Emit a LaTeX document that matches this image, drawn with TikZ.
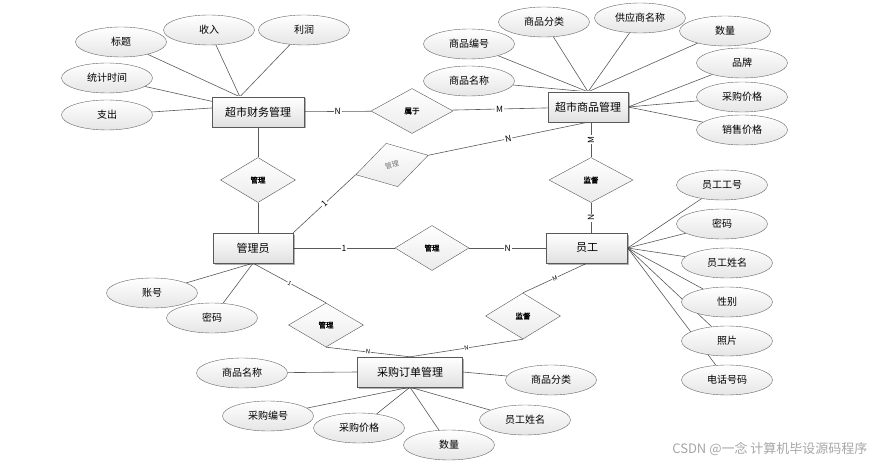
\documentclass[tikz,border=0pt]{standalone}
\usepackage{fontspec}
\setmainfont{Noto Sans CJK SC}[AutoFakeBold=2]
\usetikzlibrary{shapes.geometric,shadows,backgrounds}

\tikzset{
  entity/.style={draw=black!65, rectangle, minimum height=30pt, inner sep=0pt,
    top color=white, bottom color=black!12,
    drop shadow={shadow xshift=1.5pt, shadow yshift=-1.5pt, opacity=0.3, fill=black},
    font=\fontsize{11}{13}\selectfont},
  attr/.style={draw=black!60, ellipse, minimum width=91pt, minimum height=30pt, inner sep=0pt,
    top color=white, bottom color=black!10, font=\fontsize{10}{12}\selectfont},
  rel/.style={draw=black!65, diamond, minimum width=75pt, minimum height=45pt, inner sep=0pt,
    top color=white, bottom color=black!8, font=\fontsize{7.5}{9}\selectfont\bfseries},
  conn/.style={draw=black!65, line width=0.6pt},
  card/.style={fill=white, inner sep=1pt, font=\fontsize{8.5}{10}\selectfont},
  tiny/.style={fill=white, inner sep=0.5pt, sloped, font=\fontsize{6}{7}\selectfont}
}

\begin{document}
\begin{tikzpicture}[x=1pt, y=-1pt]
\useasboundingbox (0,0) rectangle (875,465);

% entities
\node[entity, minimum width=92pt] (fin) at (258,112) {超市财务管理};
\node[entity, minimum width=80pt] (goods) at (588,107) {超市商品管理};
\node[entity, minimum width=80pt] (admin) at (253,248) {管理员};
\node[entity, minimum width=81pt] (staff) at (587,248) {员工};
\node[entity, minimum width=105pt] (order) at (410,372) {采购订单管理};

% relations
\node[rel, minimum width=82pt] (belong) at (412,111) {属于};
\node[rel] (mgr1) at (258,180) {管理};
\node[rel, minimum width=74pt] (mgr2) at (432,248) {管理};
\node[rel, minimum height=44pt] (mgr3) at (326,325) {管理};
\node[rel, rotate=15, text=black!55, font=\fontsize{7}{8}\selectfont] (mgr4) at (392,165) {管理};
\node[rel, minimum width=84pt] (sup1) at (591,180) {监督};
\node[rel, minimum height=46pt] (sup2) at (523,316) {监督};

% finance attributes
\node[attr] (f1) at (121,42) {标题};
\node[attr] (f2) at (209,30) {收入};
\node[attr] (f3) at (304,30) {利润};
\node[attr] (f4) at (107,78) {统计时间};
\node[attr] (f5) at (107,115) {支出};

% goods attributes
\node[attr] (g1) at (469,44) {商品编号};
\node[attr] (g2) at (544,22) {商品分类};
\node[attr] (g3) at (640,18) {供应商名称};
\node[attr] (g4) at (725,31) {数量};
\node[attr] (g5) at (469,81) {商品名称};
\node[attr] (g6) at (742,63) {品牌};
\node[attr] (g7) at (742,97) {采购价格};
\node[attr] (g8) at (742,130) {销售价格};

% staff attributes
\node[attr] (s1) at (722,185) {员工工号};
\node[attr] (s2) at (722,224) {密码};
\node[attr] (s3) at (727,263) {员工姓名};
\node[attr] (s4) at (727,302) {性别};
\node[attr] (s5) at (727,341) {照片};
\node[attr] (s6) at (727,380) {电话号码};

% admin attributes
\node[attr] (a1) at (152,293) {账号};
\node[attr] (a2) at (212,318) {密码};

% order attributes
\node[attr] (o1) at (242,373) {商品名称};
\node[attr] (o2) at (551,380) {商品分类};
\node[attr] (o3) at (268,416) {采购编号};
\node[attr] (o4) at (359,428) {采购价格};
\node[attr] (o5) at (449,445) {数量};
\node[attr] (o6) at (525,420) {员工姓名};

\begin{scope}[on background layer]
\draw[conn] (f1) -- (fin.140); \draw[conn] (f2) -- (fin.140); \draw[conn] (f3) -- (fin.140);
\draw[conn] (f4) -- (fin.167); \draw[conn] (f5) -- (fin.175);
\draw[conn] (g1) -- (goods.north); \draw[conn] (g2) -- (goods.north); \draw[conn] (g3) -- (goods.north);
\draw[conn] (g4) -- (goods.north); \draw[conn] (g5) -- (goods.north);
\draw[conn] (g6) -- (goods.east); \draw[conn] (g7) -- (goods.east); \draw[conn] (g8) -- (goods.east);
\draw[conn] (s1) -- (staff.east); \draw[conn] (s2) -- (staff.east); \draw[conn] (s3) -- (staff.east);
\draw[conn] (s4) -- (staff.east); \draw[conn] (s5) -- (staff.east); \draw[conn] (s6) -- (staff.east);
\draw[conn] (a1) -- (admin.south); \draw[conn] (a2) -- (admin.south);
\draw[conn] (o1) -- (order.west); \draw[conn] (o2) -- (order.east);
\draw[conn] (o3) -- (order.south); \draw[conn] (o4) -- (order.south);
\draw[conn] (o5) -- (order.south); \draw[conn] (o6) -- (order.south);

% relation lines
\draw[conn] (fin) -- node[card] {N} (belong);
\draw[conn] (belong) -- node[card] {M} (goods);
\draw[conn] (fin) -- (mgr1); \draw[conn] (mgr1) -- (mgr1 |- admin.north);
\draw[conn] (admin.north east) -- node[card, sloped] {1} (mgr4.west);
\draw[conn] (mgr4.east) -- node[card, sloped] {N} (goods.south);
\draw[conn] (sup1 |- goods.south) -- node[card, rotate=90] {M} (sup1);
\draw[conn] (sup1) -- node[card, rotate=90] {N} (sup1 |- staff.north);
\draw[conn] (admin) -- node[card] {1} (mgr2);
\draw[conn] (mgr2) -- node[card] {N} (staff);
\draw[conn] (admin.south) -- node[tiny] {1} (mgr3.north);
\draw[conn] (mgr3.south) -- node[tiny] {N} (order.north);
\draw[conn] (staff.south) -- node[tiny] {M} (sup2.north);
\draw[conn] (sup2.south) -- node[tiny] {N} (order.north);
\end{scope}

\node[text=black!35, font=\fontsize{13}{15}\selectfont, anchor=east] (mark) at (871,449) {CSDN @一念 计算机毕设源码程序};

\end{tikzpicture}
\end{document}
